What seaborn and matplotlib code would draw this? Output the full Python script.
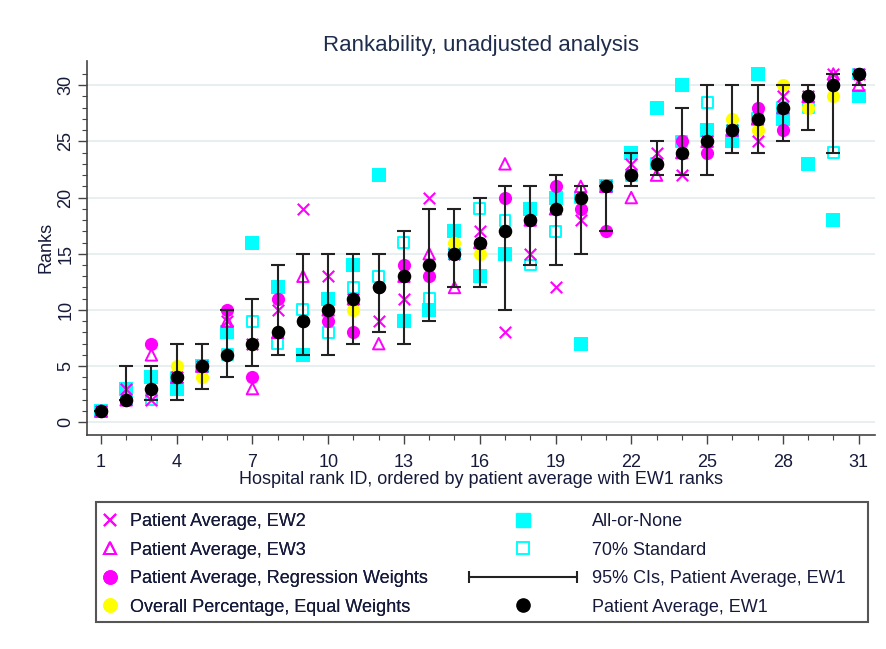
import numpy as np
import pandas as pd
import matplotlib
matplotlib.use("Agg")
import matplotlib.pyplot as plt
import seaborn as sns
from matplotlib.lines import Line2D
from matplotlib.patches import Rectangle
from matplotlib.legend_handler import HandlerBase

hospital = list(range(1, 32))
ew1 = list(range(1, 32))
ci_low = [1, 2, 2, 2, 3, 4, 5, 6, 6, 6, 7, 8, 7, 9, 12, 12, 10, 14, 14, 15, 17, 21, 22, 22, 22, 24, 24, 25, 26, 24, 30]
ci_high = [1, 5, 5, 7, 7, 10, 11, 14, 15, 15, 15, 15, 17, 19, 19, 20, 21, 21, 22, 21, 21, 24, 25, 28, 30, 30, 30, 30, 30, 31, 31]
ew2 = [1, 3, 2, 4, 5, 9, 7, 10, 19, 13, 11, 9, 11, 20, 15, 17, 8, 15, 12, 18, 21, 23, 24, 22, 25, 26, 25, 29, 29, 31, 31]
ew3 = [1, 2, 6, 4, 5, 9, 3, 8, 13, 10, 11, 7, 13, 15, 12, 16, 23, 18, 19, 21, 21, 20, 22, 24, 25, 26, 27, 28, 29, 31, 30]
regw = [1, 2, 7, 4, 5, 10, 4, 11, 9, 9, 8, 12, 14, 13, 15, 16, 20, 18, 21, 19, 17, 22, 23, 25, 24, 26, 28, 26, 29, 30, 31]
overall = [1, 2, 3, 5, 4, 6, 7, 8, 9, 10, 10, 12, 13, 14, 16, 15, 17, 18, 19, 20, 21, 22, 23, 24, 25, 27, 26, 30, 28, 29, 31]
all_or_none = [1, 3, 4, 3, 5, 8, 16, 12, 6, 11, 14, 22, 9, 10, 17, 13, 15, 19, 20, 7, 21, 24, 28, 30, 26, 25, 31, 27, 23, 18, 29]
std70 = [1, 2, 2, 4, 5, 6, 9, 7, 10, 8, 12, 13, 16, 11, 15, 19, 18, 14, 17, 20, 21, 22, 23, 25, 28.5, 26, 27, 28, 28, 24, 31]

labels = {
    "ew2": "Patient Average, EW2",
    "ew3": "Patient Average, EW3",
    "regw": "Patient Average, Regression Weights",
    "overall": "Overall Percentage, Equal Weights",
    "aon": "All-or-None",
    "std70": "70% Standard",
    "ci": "95% CIs, Patient Average, EW1",
    "ew1": "Patient Average, EW1",
}

df = pd.DataFrame({"hospital": hospital, "ew1": ew1, "lo": ci_low, "hi": ci_high,
                   "ew2": ew2, "ew3": ew3, "regw": regw, "overall": overall,
                   "aon": all_or_none, "std70": std70})

sns.set_theme(style="white")
plt.rcParams["font.family"] = ["Liberation Sans", "DejaVu Sans"]

MAG = "#ff00ff"
CYA = "#00ffff"
YEL = "#ffff00"
INK = "#161a3a"
AX = "#444444"
FS = 13

fig = plt.figure(figsize=(8.87, 6.49), dpi=100)
ax = fig.add_axes([87.5 / 887, 1 - 435 / 649, (875 - 87.5) / 887, (435 - 60.5) / 649])

sns.scatterplot(data=df, x="hospital", y="aon", marker="s", s=88, color=CYA, edgecolor=CYA, linewidth=0, ax=ax, zorder=3)
sns.scatterplot(data=df, x="hospital", y="std70", marker="s", s=62, facecolor="none", edgecolor=CYA, linewidth=1.4, ax=ax, zorder=3)
sns.scatterplot(data=df, x="hospital", y="overall", marker="o", s=90, color=YEL, edgecolor=YEL, linewidth=0, ax=ax, zorder=4)
sns.scatterplot(data=df, x="hospital", y="regw", marker="o", s=90, color=MAG, edgecolor=MAG, linewidth=0, ax=ax, zorder=4)
sns.scatterplot(data=df, x="hospital", y="ew3", marker="^", s=68, facecolor="none", edgecolor=MAG, linewidth=1.4, ax=ax, zorder=5)
sns.scatterplot(data=df, x="hospital", y="ew2", marker="x", s=68, color=MAG, linewidth=1.5, ax=ax, zorder=5)
ax.errorbar(df["hospital"], df["ew1"], yerr=[df["ew1"] - df["lo"], df["hi"] - df["ew1"]],
            fmt="none", ecolor="#222222", elinewidth=1.5, capsize=5, capthick=1.5, zorder=6)
sns.scatterplot(data=df, x="hospital", y="ew1", marker="o", s=95, color="black", edgecolor="black", linewidth=0, ax=ax, zorder=7)

ax.set_xlim(0.47, 31.65)
ax.set_ylim(-1.13, 32.2)
ax.set_xticks(list(range(1, 32, 3)))
ax.set_xticks(list(range(1, 32)), minor=True)
ax.set_yticks(list(range(0, 31, 5)))
ax.set_yticks(list(range(0, 32)), minor=True)
ax.tick_params(axis="both", which="major", direction="out", length=6.5, width=1, color=AX,
               labelsize=FS, labelcolor=INK, bottom=True, left=True)
ax.tick_params(axis="x", which="major", pad=7.3)
ax.tick_params(axis="y", which="major", pad=3)
ax.tick_params(axis="both", which="minor", direction="out", length=3.4, width=0.8, color=AX,
               bottom=True, left=True)
for lab in ax.get_yticklabels():
    lab.set_rotation(90)
    lab.set_va("center")
ax.yaxis.grid(True, which="major", color="#e6eef0", linewidth=1.3)
ax.set_axisbelow(True)
for s in ["top", "right"]:
    ax.spines[s].set_visible(False)
for s in ["left", "bottom"]:
    ax.spines[s].set_color(AX)
    ax.spines[s].set_linewidth(1.2)
ax.set_xlabel("Hospital rank ID, ordered by patient average with EW1 ranks", fontsize=FS, color=INK, labelpad=0)
ax.set_ylabel("Ranks", fontsize=FS, color=INK, labelpad=2)
fig.text(481 / 887, 1 - 45 / 649, "Rankability, unadjusted analysis", ha="center", va="center",
         fontsize=16, color="#1f2d4d")


class HandlerCI(HandlerBase):
    def create_artists(self, legend, orig_handle, xdescent, ydescent, width, height, fontsize, trans):
        y = height / 2 - ydescent
        x0, x1 = -xdescent, width - xdescent
        line = Line2D([x0, x1], [y, y], color="#222222", lw=1.5)
        caps = Line2D([x0, x1], [y, y], ls="none", marker="|", markersize=8, mew=1.5, color="#222222")
        for a in (line, caps):
            a.set_transform(trans)
        return [line, caps]


ci_handle = Line2D([], [], color="#222222")
h1 = [Line2D([], [], marker="x", color=MAG, ls="none", markersize=8.5, mew=1.5),
      Line2D([], [], marker="^", mfc="none", mec=MAG, ls="none", markersize=8.5, mew=1.4),
      Line2D([], [], marker="o", color=MAG, ls="none", markersize=9.5),
      Line2D([], [], marker="o", color=YEL, ls="none", markersize=9.5)]
l1 = [labels["ew2"], labels["ew3"], labels["regw"], labels["overall"]]
h2 = [Line2D([], [], marker="s", color=CYA, ls="none", markersize=9.5),
      Line2D([], [], marker="s", mfc="none", mec=CYA, ls="none", markersize=8.2, mew=1.4),
      ci_handle,
      Line2D([], [], marker="o", color="black", ls="none", markersize=9.5)]
l2 = [labels["aon"], labels["std70"], labels["ci"], labels["ew1"]]

common = dict(frameon=False, fontsize=FS, labelspacing=0.64, borderpad=0, borderaxespad=0,
              labelcolor=INK)
leg1 = fig.legend(h1, l1, loc="upper left", bbox_to_anchor=(102.8 / 887, 1 - 513 / 649),
                  handlelength=0.8, handletextpad=0.71, **common)
leg2 = fig.legend(h2, l2, loc="upper left", bbox_to_anchor=(469 / 887, 1 - 513 / 649),
                  handlelength=5.98, handletextpad=0.81, handler_map={ci_handle: HandlerCI()}, **common)
fig.add_artist(leg1)
fig.patches.append(Rectangle((96.5 / 887, 1 - 622 / 649), (868 - 96.5) / 887, (622 - 501.5) / 649,
                             transform=fig.transFigure, fill=False, edgecolor="#555555", linewidth=1.5))

fig.savefig("out.png", dpi=100, facecolor="white")
